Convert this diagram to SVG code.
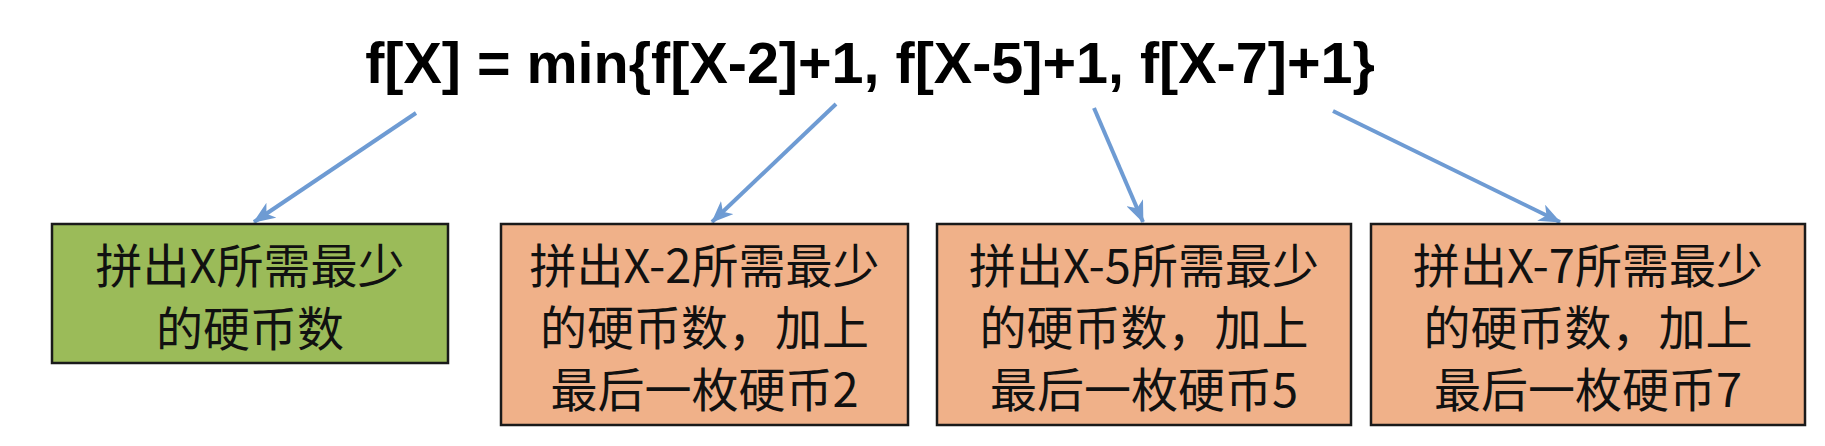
<svg xmlns="http://www.w3.org/2000/svg" width="1825" height="446" viewBox="0 0 1825 446">
<style>
.title{font-family:"Liberation Sans",Arial,sans-serif;font-weight:bold;font-size:57.5px;fill:#000}
.box{stroke:#1a1a1a;stroke-width:2.5}
.green{fill:#9bbb59}
.orange{fill:#f0b189}
.lbl{font-family:"Noto Sans CJK SC","Noto Sans",sans-serif;font-size:47px;fill:#111;text-anchor:middle}
.conn{stroke:#6e9bd3;stroke-width:4;fill:none;marker-end:url(#ah)}
</style>
<defs>
<marker id="ah" markerUnits="userSpaceOnUse" markerWidth="22" markerHeight="18" viewBox="0 0 22 18" refX="21" refY="9" orient="auto">
<path d="M0,0 L22,9 L0,18 L6,9 z" fill="#6e9bd3"/>
</marker>
</defs>
<rect width="1825" height="446" fill="#fff"/>
<text class="title" x="870" y="83" text-anchor="middle">f[X] = min{f[X-2]+1, f[X-5]+1, f[X-7]+1}</text>
<g id="connectors">
<line class="conn" x1="416" y1="113" x2="254" y2="222"/>
<line class="conn" x1="836" y1="104" x2="712" y2="222"/>
<line class="conn" x1="1094" y1="108" x2="1143" y2="222"/>
<line class="conn" x1="1333" y1="111" x2="1560" y2="222"/>
</g>
<g id="node-x">
<rect class="box green" x="52" y="224" width="396" height="139"/>
<text class="lbl"><tspan x="250" y="283">拼出X所需最少</tspan><tspan x="250" y="346">的硬币数</tspan></text>
</g>
<g id="node-x2">
<rect class="box orange" x="501" y="224" width="407" height="201"/>
<text class="lbl"><tspan x="704.5" y="283">拼出X-2所需最少</tspan><tspan x="704.5" y="345">的硬币数，加上</tspan><tspan x="704.5" y="407">最后一枚硬币2</tspan></text>
</g>
<g id="node-x5">
<rect class="box orange" x="937" y="224" width="414" height="201"/>
<text class="lbl"><tspan x="1144" y="283">拼出X-5所需最少</tspan><tspan x="1144" y="345">的硬币数，加上</tspan><tspan x="1144" y="407">最后一枚硬币5</tspan></text>
</g>
<g id="node-x7">
<rect class="box orange" x="1371" y="224" width="434" height="201"/>
<text class="lbl"><tspan x="1588" y="283">拼出X-7所需最少</tspan><tspan x="1588" y="345">的硬币数，加上</tspan><tspan x="1588" y="407">最后一枚硬币7</tspan></text>
</g>
</svg>
